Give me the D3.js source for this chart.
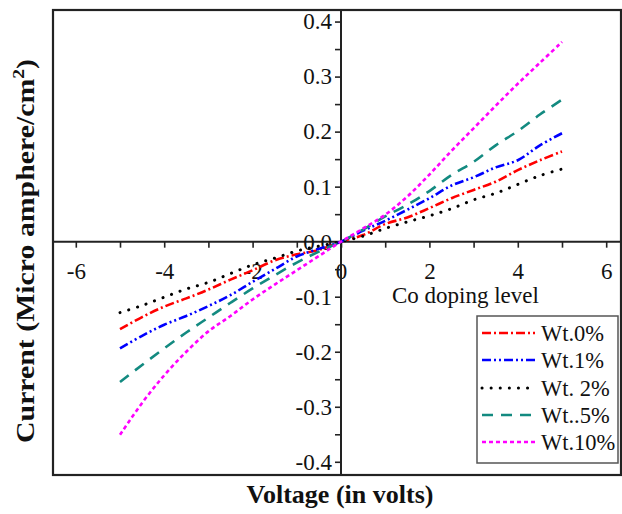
<!DOCTYPE html>
<html>
<head>
<meta charset="utf-8">
<script src="https://cdn.jsdelivr.net/npm/d3@7"></script>
<style>
  html, body { margin: 0; padding: 0; background: #fff; }
  svg { display: block; }
  svg text { font-family: "Liberation Serif", "Times New Roman", serif; fill: #111; }
</style>
</head>
<body>
<svg id="chart" width="622" height="514"></svg>
<script>
// Applied voltage (V)
const voltage = [-5, -4.5, -4, -3.5, -3, -2.5, -2, -1.5, -1, -0.5, 0,
                 0.5, 1, 1.5, 2, 2.5, 3, 3.5, 4, 4.5, 5];

// Current density (micro ampere / cm^2) for each Co doping level
const wt0  = [-0.159, -0.137, -0.118, -0.103, -0.087, -0.069, -0.052, -0.034, -0.023, -0.015, 0,
               0.012, 0.032, 0.044, 0.061, 0.079, 0.094, 0.109, 0.130, 0.148, 0.164];
const wt1  = [-0.194, -0.171, -0.151, -0.135, -0.117, -0.097, -0.073, -0.050, -0.027, -0.013, 0,
               0.020, 0.038, 0.058, 0.079, 0.102, 0.117, 0.135, 0.148, 0.175, 0.197];
const wt2  = [-0.129, -0.116, -0.101, -0.086, -0.074, -0.058, -0.042, -0.030, -0.017, -0.008, 0,
               0.010, 0.024, 0.036, 0.047, 0.060, 0.076, 0.088, 0.104, 0.120, 0.132];
const wt5  = [-0.255, -0.224, -0.194, -0.165, -0.138, -0.111, -0.085, -0.061, -0.038, -0.018, 0,
               0.022, 0.046, 0.067, 0.092, 0.121, 0.145, 0.175, 0.201, 0.231, 0.258];
const wt10 = [-0.351, -0.293, -0.243, -0.200, -0.163, -0.135, -0.105, -0.078, -0.052, -0.026, 0,
               0.024, 0.049, 0.082, 0.122, 0.165, 0.206, 0.247, 0.287, 0.325, 0.363];

const seriesNames = ["Wt.0%", "Wt.1%", "Wt. 2%", "Wt..5%", "Wt.10%"];
const seriesValues = [wt0, wt1, wt2, wt5, wt10];

const xMajorTicks = [-6, -4, -2, 0, 2, 4, 6];
const xMinorTicks = [-5, -3, -1, 1, 3, 5];
const yMajorTicks = [-0.4, -0.3, -0.2, -0.1, 0.0, 0.1, 0.2, 0.3, 0.4];
const yMinorTicks = [-0.35, -0.25, -0.15, -0.05, 0.05, 0.15, 0.25, 0.35];

const styles = [
  { color: "#ff0000", dash: "9,3,2,3", width: 2.6, cap: "butt" },
  { color: "#0000ff", dash: "9,3,2,3,2,3", width: 2.6, cap: "butt" },
  { color: "#000000", dash: "0.1,9", width: 3, cap: "round" },
  { color: "#138a80", dash: "11,8", width: 2.6, cap: "butt" },
  { color: "#ff00ff", dash: "4,3", width: 2.6, cap: "butt" }
];

const serif = "Liberation Serif";
const labelSize = 23;
const frame = { left: 53, right: 621, top: 10, bottom: 475 };

const svg = d3.select("#chart");

const x = d3.scaleLinear().domain([-6.516, 6.335]).range([frame.left, frame.right]);
const y = d3.scaleLinear().domain([-0.424, 0.421]).range([frame.bottom, frame.top]);

const x0 = x(0), y0 = y(0);

// Outer frame
svg.append("rect")
  .attr("x", frame.left).attr("y", frame.top)
  .attr("width", frame.right - frame.left).attr("height", frame.bottom - frame.top)
  .attr("fill", "none").attr("stroke", "#222").attr("stroke-width", 2.2);

const fmt = v => {
  const s = Math.abs(v).toFixed(1);
  return (v < -1e-9 ? "-" : "") + s;
};

function styleAxis(g) {
  g.attr("font-family", serif).attr("font-size", labelSize);
  g.selectAll("g").attr("font-family", serif).attr("font-size", labelSize);
  g.selectAll(".domain").remove();
  g.selectAll(".tick line").attr("stroke", "#222").attr("stroke-width", 1.6);
  g.selectAll(".tick text").attr("font-family", serif).attr("font-size", labelSize).attr("fill", "#111");
}

// X axis through y = 0
const xAxisG = svg.append("g").attr("transform", `translate(0,${y0})`);
xAxisG.call(d3.axisBottom(x).tickValues(xMajorTicks).tickSize(6).tickPadding(15)
  .tickFormat(d => d < 0 ? "-" + Math.abs(d) : String(d)));
xAxisG.append("g").call(d3.axisBottom(x).tickValues(xMinorTicks).tickSize(6).tickFormat(""));
styleAxis(xAxisG);
xAxisG.append("line").attr("x1", frame.left).attr("x2", frame.right)
  .attr("stroke", "#222").attr("stroke-width", 2);

// Y axis through x = 0
const yAxisG = svg.append("g").attr("transform", `translate(${x0},0)`);
yAxisG.call(d3.axisLeft(y).tickValues(yMajorTicks).tickSize(6).tickPadding(3).tickFormat(fmt));
yAxisG.append("g").call(d3.axisLeft(y).tickValues(yMinorTicks).tickSize(6).tickFormat(""));
styleAxis(yAxisG);
yAxisG.append("line").attr("y1", frame.top).attr("y2", frame.bottom)
  .attr("stroke", "#222").attr("stroke-width", 2);

// Curves
const line = d3.line()
  .x((d, i) => x(voltage[i]))
  .y(d => y(d))
  .curve(d3.curveCatmullRom.alpha(0.5));

seriesValues.forEach((vals, i) => {
  const s = styles[i];
  svg.append("path")
    .datum(vals)
    .attr("d", line)
    .attr("fill", "none")
    .attr("stroke", s.color)
    .attr("stroke-width", s.width)
    .attr("stroke-dasharray", s.dash)
    .attr("stroke-linecap", s.cap);
});

// Annotation under the x axis
svg.append("text").attr("x", 392).attr("y", 303)
  .attr("font-family", serif).attr("font-size", labelSize).text("Co doping level");

// Legend
const legend = { x: 477, y: 316, w: 141, h: 147, rowY: [333, 360, 388, 415, 442] };
svg.append("rect")
  .attr("x", legend.x).attr("y", legend.y).attr("width", legend.w).attr("height", legend.h)
  .attr("fill", "#fff").attr("stroke", "#555").attr("stroke-width", 1.5);
seriesNames.forEach((name, i) => {
  const s = styles[i];
  const ry = legend.rowY[i];
  svg.append("line")
    .attr("x1", 482).attr("x2", 535).attr("y1", ry).attr("y2", ry)
    .attr("stroke", s.color).attr("stroke-width", s.width)
    .attr("stroke-dasharray", s.dash).attr("stroke-linecap", s.cap);
  svg.append("text").attr("x", 541).attr("y", ry + 7.5)
    .attr("font-family", serif).attr("font-size", 22.5).text(name);
});

// Axis titles
svg.append("text")
  .attr("x", 340).attr("y", 503)
  .attr("text-anchor", "middle")
  .attr("font-family", serif)
  .attr("font-size", 26).attr("font-weight", "bold")
  .text("Voltage (in volts)");

const yTitle = svg.append("text")
  .attr("text-anchor", "middle")
  .attr("font-family", serif)
  .attr("font-size", 26).attr("font-weight", "bold");
yTitle.append("tspan").text("Current (Micro amphere/cm");
yTitle.append("tspan").attr("dy", -10).attr("font-size", 17).text("2");
yTitle.append("tspan").attr("dy", 10).text(")");
// stretch the vertical title along its length to span the plot height
const titleLen = yTitle.node().getBBox().width;
const stretch = 384 / titleLen;
yTitle.attr("transform", `translate(34,251) rotate(-90) scale(${stretch},1)`);
</script>
</body>
</html>
